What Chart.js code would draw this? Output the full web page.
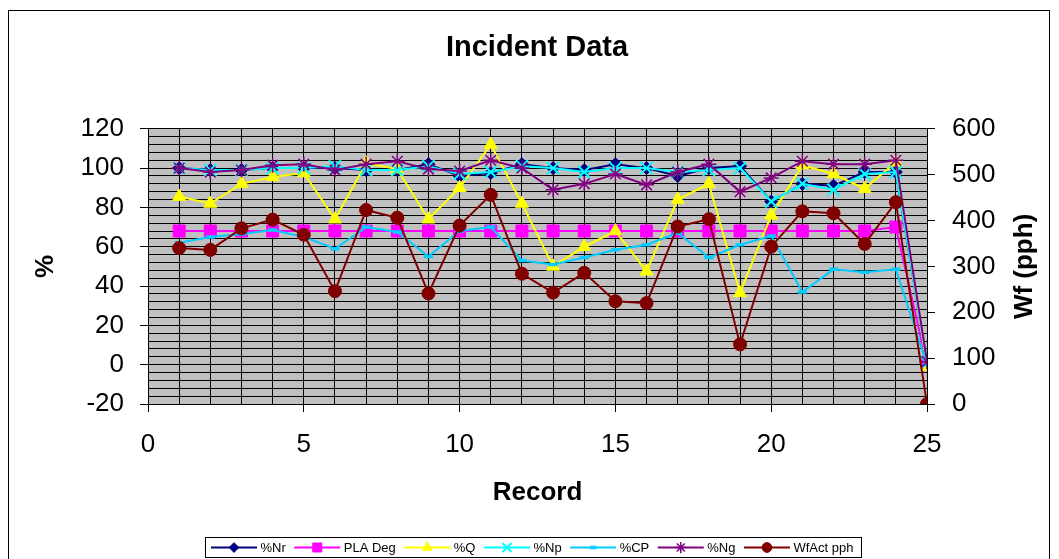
<!DOCTYPE html>
<html>
<head>
<meta charset="utf-8">
<script src="https://cdn.jsdelivr.net/npm/chart.js@4.4.1/dist/chart.umd.min.js"></script>
<style>
html,body{margin:0;padding:0;background:#fff;}
canvas{display:block;}
</style>
</head>
<body>
<canvas id="c" width="1059" height="559"></canvas>
<script>
// ---------- data ----------
const records = [1,2,3,4,5,6,7,8,9,10,11,12,13,14,15,16,17,18,19,20,21,22,23,24,25];
const seriesNames = ['%Nr','PLA Deg','%Q','%Np','%CP','%Ng','WfAct pph'];
const pctNr  = [100,99,99,100,100,100,99,99,102,96,97.5,102,100,99,102,100,96,100,101,83,92,91,98,98,1];
const plaDeg = [68,68,68,68,68,68,68,68,68,68,68,68,68,68,68,68,68,68,68,68,68,68,68,70,0];
const pctQ   = [85.5,82,92,95.5,97.5,74,102.5,99.5,74,90,112,82,50,60,68,47.5,84,92,36.5,76,101.5,97,89.5,103,-1];
const pctNp  = [100,99,99,100,100,101,99,99,101,97,98,101,100,98,100,100,98,99,100,83,92,89,97,98,1];
const pctCP  = [62,65,66.5,68.5,65,59,70,67.5,55,68,70,53,51,54.5,58.5,61,67,54.5,61,65.5,37,48.5,47,48.5,0];
const pctNg  = [100,98,99,101.5,102,99,102,103.5,99.5,98.5,104,100,89,92,97,91.5,98,102,88,95,103.5,102,102,104,1.5];
const wfAct  = [340,336,383,402,369,246,423,406,241,389,456,284,243,286,224,220,387,403,130,343,420,416,349,440,0];
const xTickLabels      = [0,5,10,15,20,25];
const leftTickLabels   = [-20,0,20,40,60,80,100,120];
const rightTickLabels  = [0,100,200,300,400,500,600];

// ---------- styles ----------
const FONT = '"Liberation Sans", Arial, Helvetica, sans-serif';
Chart.defaults.font.family = FONT;
Chart.defaults.color = '#000';

const styles = [
  {color:'#000080', pointStyle:'rectRot',  radius:6.5, pbw:1,   axis:'y'},
  {color:'#FF00FF', pointStyle:'rect',     radius:8.5, pbw:1,   axis:'y'},
  {color:'#FFFF00', pointStyle:'triangle', radius:7.5, pbw:1,   axis:'y'},
  {color:'#00FFFF', pointStyle:'crossRot', radius:8.5, pbw:2,   axis:'y'},
  {color:'#00CCFF', pointStyle:'line',     radius:4.5, pbw:3.5, axis:'y'},
  {color:'#800080', pointStyle:'star',     radius:7.5, pbw:1.5, axis:'y'},
  {color:'#800000', pointStyle:'circle',   radius:6.5, pbw:1,   axis:'y1'}
];
const seriesValues = [pctNr, plaDeg, pctQ, pctNp, pctCP, pctNg, wfAct];

const datasets = seriesValues.map((vals, i) => ({
  label: seriesNames[i],
  data: records.map((r, k) => ({x: r, y: vals[k]})),
  yAxisID: styles[i].axis,
  borderColor: styles[i].color,
  backgroundColor: styles[i].color,
  pointBackgroundColor: styles[i].color,
  pointBorderColor: styles[i].color,
  pointStyle: styles[i].pointStyle,
  pointRadius: styles[i].radius,
  pointBorderWidth: styles[i].pbw,
  borderWidth: 2,
  tension: 0,
  fill: false,
  order: seriesValues.length - i
}));

// ---------- plugins ----------
const plotBg = {
  id: 'plotBg',
  beforeDraw(chart) {
    const {ctx, chartArea: a} = chart;
    ctx.save();
    ctx.fillStyle = '#C0C0C0';
    ctx.fillRect(a.left, a.top, a.right - a.left, a.bottom - a.top);
    ctx.restore();
  }
};

const extras = {
  id: 'extras',
  afterDraw(chart) {
    const ctx = chart.ctx;
    const a = chart.chartArea;
    ctx.save();
    // outer frame
    ctx.strokeStyle = '#000';
    ctx.lineWidth = 1;
    ctx.strokeRect(8.5, 10.5, 1041, 600);
    // right axis title (reads bottom to top)
    ctx.save();
    ctx.translate(1025, (a.top + a.bottom) / 2);
    ctx.rotate(-Math.PI / 2);
    ctx.font = 'bold 26px ' + FONT;
    ctx.fillStyle = '#000';
    ctx.textAlign = 'center';
    ctx.textBaseline = 'middle';
    ctx.fillText('Wf (pph)', 0, 0);
    ctx.restore();
    // legend
    ctx.font = '13px ' + FONT;
    const lineLen = 46, gapA = 3.5, gapB = 8.5;
    const widths = chart.data.datasets.map(d => ctx.measureText(d.label).width);
    let total = 0;
    widths.forEach(w => total += lineLen + gapA + w + gapB);
    total -= gapB;
    const boxPadL = 5.5, boxPadR = 8;
    const center = 533;
    const boxW = total + boxPadL + boxPadR;
    const boxL = Math.round(center - boxW / 2) + 0.5;
    const boxT = 537.5, boxH = 20;
    ctx.fillStyle = '#fff';
    ctx.fillRect(boxL, boxT, boxW, boxH);
    ctx.strokeStyle = '#000';
    ctx.lineWidth = 1;
    ctx.strokeRect(boxL, boxT, Math.round(boxW), boxH);
    let x = boxL + boxPadL;
    const y = boxT + boxH / 2;
    chart.data.datasets.forEach((d, i) => {
      ctx.strokeStyle = d.borderColor;
      ctx.lineWidth = 2;
      ctx.beginPath();
      ctx.moveTo(x, y);
      ctx.lineTo(x + lineLen, y);
      ctx.stroke();
      ctx.fillStyle = d.pointBackgroundColor;
      ctx.strokeStyle = d.pointBorderColor;
      ctx.lineWidth = d.pointBorderWidth;
      Chart.helpers.drawPoint(ctx, {pointStyle: d.pointStyle, radius: d.pointRadius * 0.75, rotation: 0, borderWidth: d.pointBorderWidth}, x + lineLen / 2, y);
      ctx.fillStyle = '#000';
      ctx.textAlign = 'left';
      ctx.textBaseline = 'middle';
      ctx.fillText(d.label, x + lineLen + gapA, y + 0.5);
      x += lineLen + gapA + widths[i] + gapB;
    });
    ctx.restore();
  }
};

// ---------- chart ----------
new Chart(document.getElementById('c'), {
  type: 'line',
  data: {datasets},
  plugins: [plotBg, extras],
  options: {
    responsive: false,
    animation: false,
    devicePixelRatio: 1,
    layout: {padding: {left: 24, right: 9, top: 0, bottom: 0}},
    plugins: {
      legend: {display: false},
      tooltip: {enabled: false},
      title: {
        display: true,
        text: 'Incident Data',
        color: '#000',
        font: {size: 29, weight: 'bold', family: FONT},
        padding: {top: 31, bottom: 63}
      }
    },
    scales: {
      x: {
        type: 'linear',
        min: 0, max: 25,
        afterFit(s) { s.height = 155; },
        ticks: {
          stepSize: 1, autoSkip: false, maxRotation: 0, maxTicksLimit: 100,
          padding: 17,
          font: {size: 26, family: FONT},
          color: '#000',
          callback: v => xTickLabels.includes(v) ? String(v) : ''
        },
        grid: {
          color: '#000', lineWidth: 1, tickLength: 8,
          tickColor: c => (c.tick && xTickLabels.includes(c.tick.value)) ? '#000' : 'rgba(0,0,0,0)'
        },
        border: {display: true, color: '#000', width: 1},
        title: {
          display: true, text: 'Record', color: '#000',
          font: {size: 26, weight: 'bold', family: FONT},
          padding: {top: 0, bottom: 51}
        }
      },
      y: {
        type: 'linear', position: 'left',
        min: -20, max: 120,
        afterFit(s) { s.width = 124; },
        ticks: {
          stepSize: 4, autoSkip: false, maxTicksLimit: 100,
          padding: 16,
          font: {size: 26, family: FONT},
          color: '#000',
          callback: v => leftTickLabels.includes(v) ? String(v) : ''
        },
        grid: {
          color: '#000', lineWidth: 1, tickLength: 8,
          tickColor: c => (c.tick && leftTickLabels.includes(c.tick.value)) ? '#000' : 'rgba(0,0,0,0)'
        },
        border: {display: true, color: '#000', width: 1},
        title: {
          display: true, text: '%', color: '#000',
          font: {size: 26, weight: 'bold', family: FONT},
          padding: {top: 6, bottom: 0}
        }
      },
      y1: {
        type: 'linear', position: 'right',
        min: 0, max: 600,
        afterFit(s) { s.width = 123; },
        ticks: {
          stepSize: 100, autoSkip: false, maxTicksLimit: 100,
          padding: 17,
          font: {size: 26, family: FONT},
          color: '#000',
          callback: v => rightTickLabels.includes(v) ? String(v) : ''
        },
        grid: {drawOnChartArea: false, color: '#000', tickLength: 8},
        border: {display: true, color: '#000', width: 1}
      }
    }
  }
});
</script>
</body>
</html>
